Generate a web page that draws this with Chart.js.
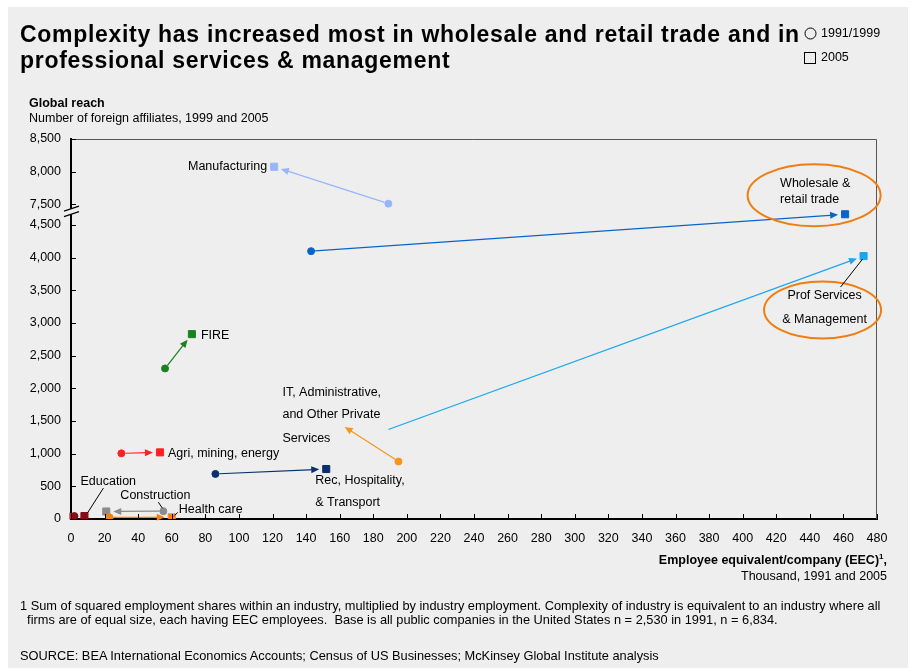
<!DOCTYPE html>
<html>
<head>
<meta charset="utf-8">
<script src="https://cdn.jsdelivr.net/npm/chart.js@4.4.1/dist/chart.umd.min.js"></script>
<style>
  body { margin: 0; background: #fff; font-family: Arial, "Liberation Sans", sans-serif; color: #000; }
  #painel { position: absolute; left: 8px; top: 7px; width: 900px; height: 661px; background: #eeeeee; }
  #area { position: absolute; left: 0; top: 0; width: 915px; height: 671px; }
  .txt { position: absolute; white-space: nowrap; font-size: 12.5px; line-height: 12.5px; }
  .dir { text-align: right; }
</style>
</head>
<body>
<div id="painel"></div>
<div id="area"><canvas id="graficoEEC" width="915" height="671"></canvas></div>

<div class="txt" style="left:20px;top:20.5px;font-size:23px;line-height:26.5px;font-weight:bold;letter-spacing:0.7px">Complexity has increased most in wholesale and retail trade and in<br>professional services &amp; management</div>
<div class="txt" style="left:821px;top:27px">1991/1999</div>
<div class="txt" style="left:821px;top:50.5px">2005</div>
<div class="txt" style="left:29px;top:96.5px;font-weight:bold">Global reach</div>
<div class="txt" style="left:29px;top:111.5px">Number of foreign affiliates, 1999 and 2005</div>
<div class="txt dir" style="right:28px;top:554px;font-weight:bold">Employee equivalent/company (EEC)<sup style="font-size:8px;line-height:0">1</sup>,</div>
<div class="txt dir" style="right:28px;top:569.5px">Thousand, 1991 and 2005</div>
<div class="txt" style="left:20px;top:598.5px;font-size:12.8px;line-height:14.7px">1 Sum of squared employment shares within an industry, multiplied by industry employment. Complexity of industry is equivalent to an industry where all<br>&nbsp;&nbsp;firms are of equal size, each having EEC employees.&nbsp; Base is all public companies in the United States n = 2,530 in 1991, n = 6,834.</div>
<div class="txt" style="left:20px;top:650px;font-size:12.8px">SOURCE: BEA International Economics Accounts; Census of US Businesses; McKinsey Global Institute analysis</div>

<script>
// Industrias e valores (EEC em milhares, numero de afiliadas no exterior)
const industries = ['Manufacturing', 'Wholesale & retail trade', 'Prof Services & Management', 'FIRE',
  'IT, Administrative, and Other Private Services', 'Agri, mining, energy', 'Rec, Hospitality, & Transport',
  'Education', 'Construction', 'Health care'];
const eec1991 = [189, 143, null, 56, 195, 30, 86, 2, 55, 23];
const reach1999 = [7510, 4100, null, 2305, 880, 1005, 690, 45, 120, 25];
const eec2005 = [121, 461, 472, 72, null, 53, 152, 8, 21, 60];
const reach2005 = [8075, 4665, 4025, 2830, null, 1020, 765, 45, 115, 25];
// IT migra para Prof Services: ponta da seta laranja e inicio da seta azul
const shiftEec = [163, 189];
const shiftReach = [1410, 1370];

const cores = ['#98b5fb', '#0a64c8', '#1aa7ec', '#1a8020', '#f7941d', '#ff2020', '#0a2f6e', '#8c0a14', '#8c8c8c', '#f7820f'];
const corSeta = ['#98b5fb', '#0a64c8', '#1aa7ec', '#1a8020', '#f7941d', '#ff2020', '#0a2f6e', '#d01020', '#8c8c8c', '#f7820f'];

const xTicks = [0, 20, 40, 60, 80, 100, 120, 140, 160, 180, 200, 220, 240, 260, 280, 300, 320, 340, 360, 380, 400, 420, 440, 460, 480];
const yTicks = [0, 500, 1000, 1500, 2000, 2500, 3000, 3500, 4000, 4500, 7500, 8000, 8500];

// eixo y cortado entre 4.500 e 7.500
const CORTE_INI = 4500, CORTE_FIM = 7500, CORTE_VAO = 317;
const brk = v => v > 6000 ? v - (CORTE_FIM - CORTE_INI) + CORTE_VAO : v;
const unbrk = t => t >= CORTE_INI + CORTE_VAO ? t + (CORTE_FIM - CORTE_INI) - CORTE_VAO : t;

const idx = industries.map((_, i) => i);
const ini = idx.filter(i => eec1991[i] !== null);
const fim = idx.filter(i => eec2005[i] !== null);

function px(chart, x, y) {
  return { x: chart.scales.x.getPixelForValue(x), y: chart.scales.y.getPixelForValue(brk(y)) };
}

function seta(ctx, a, b, cor, gapA, gapB) {
  const dx = b.x - a.x, dy = b.y - a.y, len = Math.hypot(dx, dy);
  const ux = dx / len, uy = dy / len;
  const sx = a.x + ux * gapA, sy = a.y + uy * gapA;
  const tx = b.x - ux * gapB, ty = b.y - uy * gapB;
  const head = 8, half = 3.5;
  ctx.strokeStyle = cor; ctx.fillStyle = cor; ctx.lineWidth = 1.2;
  ctx.beginPath(); ctx.moveTo(sx, sy); ctx.lineTo(tx - ux * head * 0.6, ty - uy * head * 0.6); ctx.stroke();
  ctx.beginPath(); ctx.moveTo(tx, ty);
  ctx.lineTo(tx - ux * head - uy * half, ty - uy * head + ux * half);
  ctx.lineTo(tx - ux * head + uy * half, ty - uy * head - ux * half);
  ctx.closePath(); ctx.fill();
}

function linha(ctx, x1, y1, x2, y2) {
  ctx.strokeStyle = '#000'; ctx.lineWidth = 1;
  ctx.beginPath(); ctx.moveTo(x1, y1); ctx.lineTo(x2, y2); ctx.stroke();
}

const decor = {
  id: 'decor',
  beforeDatasetsDraw(chart) {
    const ctx = chart.ctx;
    ctx.save();
    idx.forEach(i => {
      if (eec1991[i] !== null && eec2005[i] !== null) {
        seta(ctx, px(chart, eec1991[i], reach1999[i]), px(chart, eec2005[i], reach2005[i]), corSeta[i], 4, 7);
      }
    });
    // IT -> Prof Services
    seta(ctx, px(chart, eec1991[4], reach1999[4]), px(chart, shiftEec[0], shiftReach[0]), corSeta[4], 4, 0);
    seta(ctx, px(chart, shiftEec[1], shiftReach[1]), px(chart, eec2005[2], reach2005[2]), corSeta[2], 0, 7);
    ctx.restore();
  },
  afterDraw(chart) {
    const ctx = chart.ctx;
    const a = chart.chartArea;
    const sx = chart.scales.x, sy = chart.scales.y;
    ctx.save();
    // moldura superior e direita
    ctx.strokeStyle = '#555'; ctx.lineWidth = 1;
    ctx.beginPath(); ctx.moveTo(a.left, a.top + 0.5); ctx.lineTo(a.right - 0.5, a.top + 0.5); ctx.lineTo(a.right - 0.5, a.bottom); ctx.stroke();
    // marcas para dentro
    ctx.strokeStyle = '#000'; ctx.lineWidth = 1;
    xTicks.forEach(v => {
      const x = Math.round(sx.getPixelForValue(v)) + 0.5;
      ctx.beginPath(); ctx.moveTo(x, a.bottom); ctx.lineTo(x, a.bottom - 5); ctx.stroke();
    });
    yTicks.forEach(v => {
      const y = Math.round(sy.getPixelForValue(brk(v))) + 0.5;
      ctx.beginPath(); ctx.moveTo(a.left, y); ctx.lineTo(a.left + 5, y); ctx.stroke();
    });
    // quebra do eixo
    const yq = (sy.getPixelForValue(CORTE_INI) + sy.getPixelForValue(brk(CORTE_FIM))) / 2 - 3;
    ctx.fillStyle = '#eeeeee';
    ctx.fillRect(a.left - 2, yq - 3, 4, 6);
    ctx.strokeStyle = '#000'; ctx.lineWidth = 1.2;
    ctx.beginPath(); ctx.moveTo(a.left - 7, yq - 0.5); ctx.lineTo(a.left + 8, yq - 5.5); ctx.stroke();
    ctx.beginPath(); ctx.moveTo(a.left - 7, yq + 5); ctx.lineTo(a.left + 8, yq); ctx.stroke();

    // rotulos
    ctx.fillStyle = '#000';
    ctx.font = '12.5px Arial, "Liberation Sans", sans-serif';
    ctx.textBaseline = 'middle';
    const escreve = (t, x, y, al) => { ctx.textAlign = al || 'left'; ctx.fillText(t, x, y); };
    let p = px(chart, eec2005[0], reach2005[0]);
    escreve('Manufacturing', p.x - 7, p.y, 'right');
    p = px(chart, eec2005[3], reach2005[3]);
    escreve('FIRE', p.x + 9, p.y + 1);
    p = px(chart, eec2005[5], reach2005[5]);
    escreve('Agri, mining, energy', p.x + 8, p.y + 1);
    p = px(chart, eec2005[6], reach2005[6]);
    escreve('Rec, Hospitality,', p.x - 11, p.y + 12);
    escreve('& Transport', p.x - 11, p.y + 34);
    p = px(chart, eec1991[4], reach1999[4]);
    escreve('IT, Administrative,', p.x - 116, p.y - 69);
    escreve('and Other Private', p.x - 116, p.y - 47);
    escreve('Services', p.x - 116, p.y - 23);
    p = px(chart, eec2005[7], reach2005[7]);
    escreve('Education', p.x - 4, p.y - 35);
    linha(ctx, p.x + 19, p.y - 28, p.x + 3, p.y - 3);
    p = px(chart, eec1991[8], reach1999[8]);
    escreve('Construction', p.x - 43, p.y - 16);
    linha(ctx, p.x - 5, p.y - 9, p.x - 1, p.y - 3);
    p = px(chart, eec2005[9], reach2005[9]);
    escreve('Health care', p.x + 7, p.y - 8);
    linha(ctx, p.x + 6, p.y - 5, p.x + 3, p.y - 2);

    // destaques
    ctx.strokeStyle = '#f07d10'; ctx.lineWidth = 2;
    p = px(chart, eec2005[1], reach2005[1]);
    ctx.beginPath(); ctx.ellipse(p.x - 31, p.y - 19, 66.5, 31, 0, 0, Math.PI * 2); ctx.stroke();
    escreve('Wholesale &', p.x - 65, p.y - 31);
    escreve('retail trade', p.x - 65, p.y - 15);
    p = px(chart, eec2005[2], reach2005[2]);
    ctx.strokeStyle = '#f07d10'; ctx.lineWidth = 2;
    ctx.beginPath(); ctx.ellipse(p.x - 41, p.y + 54, 58.5, 28.5, 0, 0, Math.PI * 2); ctx.stroke();
    escreve('Prof Services', p.x - 39, p.y + 39, 'center');
    escreve('& Management', p.x - 39, p.y + 63, 'center');
    linha(ctx, p.x - 23, p.y + 31, p.x - 1, p.y + 3);

    // legenda
    ctx.strokeStyle = '#000'; ctx.lineWidth = 1;
    ctx.beginPath(); ctx.arc(810.5, 33.5, 5.5, 0, Math.PI * 2); ctx.stroke();
    ctx.strokeRect(804.5, 52.5, 11, 11);
    ctx.restore();
  }
};

const ctx = document.getElementById('graficoEEC').getContext('2d');
const graficoEEC = new Chart(ctx, {
  type: 'scatter',
  data: {
    datasets: [{
      label: '1991/1999',
      data: ini.map(i => ({ x: eec1991[i], y: brk(reach1999[i]) })),
      pointStyle: 'circle',
      pointRadius: 3.5,
      backgroundColor: ini.map(i => cores[i]),
      borderColor: ini.map(i => cores[i])
    }, {
      label: '2005',
      data: fim.map(i => ({ x: eec2005[i], y: brk(reach2005[i]) })),
      pointStyle: 'rect',
      pointRadius: 5,
      backgroundColor: fim.map(i => cores[i]),
      borderColor: fim.map(i => cores[i])
    }]
  },
  options: {
    responsive: false,
    animation: false,
    layout: { padding: { left: 0, top: 139, right: 38, bottom: 112 } },
    plugins: { legend: { display: false }, tooltip: { enabled: false } },
    scales: {
      x: {
        type: 'linear', min: 0, max: 480,
        afterFit: s => { s.height = 40; },
        afterBuildTicks: s => { s.ticks = xTicks.map(v => ({ value: v })); },
        grid: { display: false, drawTicks: false },
        border: { display: true, color: '#000', width: 2 },
        ticks: { color: '#000', padding: 12, maxRotation: 0, autoSkip: false, font: { size: 12.5, family: 'Arial, "Liberation Sans", sans-serif' } }
      },
      y: {
        type: 'linear', min: 0, max: brk(8500),
        afterFit: s => { s.width = 71; },
        afterBuildTicks: s => { s.ticks = yTicks.map(v => ({ value: brk(v) })); },
        grid: { display: false, drawTicks: false },
        border: { display: true, color: '#000', width: 2 },
        ticks: {
          color: '#000', padding: 10, autoSkip: false,
          font: { size: 12.5, family: 'Arial, "Liberation Sans", sans-serif' },
          callback: v => Math.round(unbrk(v)).toLocaleString('en-US')
        }
      }
    }
  },
  plugins: [decor]
});
</script>
</body>
</html>
